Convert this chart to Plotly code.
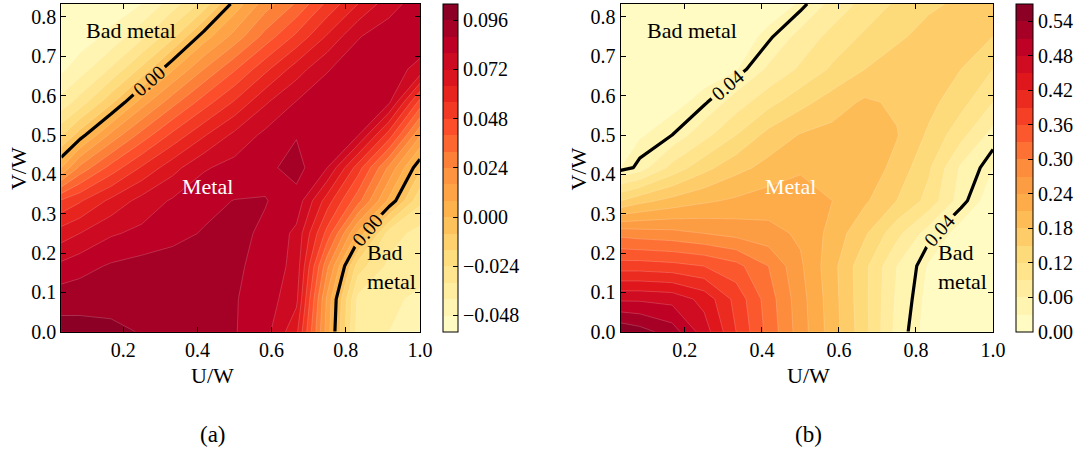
import plotly.graph_objects as go

# Grid of the parameter scan
U = [0.033, 0.083, 0.167, 0.25, 0.333, 0.417, 0.5, 0.583, 0.667, 0.75, 0.833, 0.917, 1.0]
V = [0.0, 0.083, 0.167, 0.25, 0.333, 0.417, 0.5, 0.583, 0.667, 0.75, 0.833]

# Panel (a): one row per V value, one column per U value
Z_A = [
    [0.099, 0.099, 0.098, 0.0955, 0.094, 0.092, 0.0885, 0.083, 0.066, 0.012, -0.036, -0.040, -0.042],
    [0.093, 0.093, 0.093, 0.093, 0.092, 0.091, 0.0885, 0.0845, 0.074, 0.014, -0.034, -0.039, -0.041],
    [0.082, 0.085, 0.089, 0.091, 0.091, 0.0905, 0.089, 0.086, 0.077, 0.026, -0.020, -0.034, -0.038],
    [0.068, 0.072, 0.079, 0.082, 0.086, 0.0885, 0.0895, 0.087, 0.078, 0.045, 0.006, -0.028, -0.035],
    [0.049, 0.055, 0.066, 0.075, 0.081, 0.086, 0.0882, 0.0883, 0.085, 0.060, 0.035, 0.006, -0.022],
    [0.008, 0.026, 0.043, 0.057, 0.069, 0.079, 0.083, 0.086, 0.091, 0.080, 0.052, 0.022, -0.006],
    [-0.017, -0.004, 0.018, 0.035, 0.050, 0.063, 0.074, 0.082, 0.0875, 0.083, 0.0805, 0.052, 0.017],
    [-0.037, -0.0285, -0.010, 0.012, 0.029, 0.044, 0.057, 0.071, 0.0805, 0.084, 0.083, 0.081, 0.045],
    [-0.0495, -0.044, -0.031, -0.014, 0.007, 0.024, 0.039, 0.054, 0.068, 0.0795, 0.084, 0.083, 0.078],
    [-0.053, -0.052, -0.046, -0.034, -0.018, 0.004, 0.019, 0.035, 0.050, 0.065, 0.0795, 0.084, 0.084],
    [-0.054, -0.054, -0.052, -0.048, -0.036, -0.021, 0.003, 0.020, 0.033, 0.050, 0.064, 0.077, 0.084],
]

# Panel (b)
Z_B = [
    [0.565, 0.553, 0.525, 0.465, 0.39, 0.32, 0.255, 0.195, 0.13, 0.05, 0.022, 0.014, 0.010],
    [0.475, 0.475, 0.47, 0.44, 0.38, 0.315, 0.252, 0.193, 0.128, 0.055, 0.024, 0.016, 0.012],
    [0.375, 0.375, 0.37, 0.36, 0.34, 0.30, 0.245, 0.19, 0.128, 0.06, 0.028, 0.018, 0.014],
    [0.29, 0.285, 0.28, 0.27, 0.26, 0.25, 0.235, 0.20, 0.155, 0.10, 0.045, 0.022, 0.016],
    [0.15, 0.17, 0.19, 0.205, 0.215, 0.225, 0.228, 0.21, 0.185, 0.15, 0.11, 0.045, 0.020],
    [0.030, 0.045, 0.10, 0.14, 0.17, 0.19, 0.205, 0.205, 0.20, 0.17, 0.125, 0.055, 0.030],
    [0.018, 0.028, 0.040, 0.08, 0.12, 0.16, 0.182, 0.19, 0.192, 0.182, 0.145, 0.10, 0.048],
    [0.012, 0.016, 0.024, 0.036, 0.075, 0.11, 0.14, 0.165, 0.185, 0.175, 0.16, 0.13, 0.09],
    [0.008, 0.010, 0.015, 0.022, 0.028, 0.065, 0.095, 0.125, 0.15, 0.165, 0.165, 0.15, 0.12],
    [0.005, 0.007, 0.010, 0.015, 0.020, 0.035, 0.07, 0.10, 0.125, 0.145, 0.16, 0.16, 0.15],
    [0.004, 0.005, 0.007, 0.010, 0.014, 0.020, 0.032, 0.07, 0.10, 0.125, 0.145, 0.155, 0.16],
]

# Filled-contour levels, highlighted iso-lines and colorbar ticks
LEVELS_A = (-0.056, 0.104, 0.008)
LEVELS_B = (0.0, 0.57, 0.03)
ISO_A = 0.0
ISO_B = 0.04
TICKS_A = [-0.048, -0.024, 0.0, 0.024, 0.048, 0.072, 0.096]
TICKTEXT_A = ["\u22120.048", "\u22120.024", "0.000", "0.024", "0.048", "0.072", "0.096"]
TICKS_B = [0.0, 0.06, 0.12, 0.18, 0.24, 0.30, 0.36, 0.42, 0.48, 0.54]
TICKTEXT_B = ["0.00", "0.06", "0.12", "0.18", "0.24", "0.30", "0.36", "0.42", "0.48", "0.54"]
XTICKS = [0.2, 0.4, 0.6, 0.8, 1.0]
XTICKTEXT = ["0.2", "0.4", "0.6", "0.8", "1.0"]
YTICKS = [0, 0.1, 0.2, 0.3, 0.4, 0.5, 0.6, 0.7, 0.8]
YTICKTEXT = ["0.0", "0.1", "0.2", "0.3", "0.4", "0.5", "0.6", "0.7", "0.8"]

FONT = "Liberation Serif"
W, H = 1091, 459

YLORRD = ["#ffffcc", "#ffeda0", "#fed976", "#feb24c", "#fd8d3c",
          "#fc4e2a", "#e31a1c", "#bd0026", "#800026"]


def hex_rgb(h):
    return tuple(int(h[i:i + 2], 16) for i in (1, 3, 5))


def cmap(t):
    t = min(max(t, 0.0), 1.0)
    pos = t * (len(YLORRD) - 1)
    i = min(int(pos), len(YLORRD) - 2)
    f = pos - i
    a, b = hex_rgb(YLORRD[i]), hex_rgb(YLORRD[i + 1])
    c = [round(a[k] + (b[k] - a[k]) * f) for k in range(3)]
    return "rgb(%d,%d,%d)" % tuple(c)


def band_colors(levels):
    start, end, step = levels
    n = int(round((end - start) / step))
    return [cmap((k + 0.5) / n) for k in range(n)]


def contour_scale(colors):
    # plotly samples band k at position (k+1)/(n+1); give every sample its own flat step
    n = len(colors)
    seq = [colors[0]] + colors + [colors[-1]]
    m = n + 1
    scale = []
    for j, c in enumerate(seq):
        scale.append([max(0.0, (j - 0.5) / m), c])
        scale.append([min(1.0, (j + 0.5) / m), c])
    return scale


def bar_scale(colors):
    n = len(colors)
    scale = []
    for k, c in enumerate(colors):
        scale.append([k / n, c])
        scale.append([(k + 1) / n, c])
    return scale


def px_x(p):
    return p / W


def px_y(p):
    return 1 - p / H


panels = [
    dict(z=Z_A, levels=LEVELS_A, iso=ISO_A, ticks=TICKS_A, ticktext=TICKTEXT_A,
         cbx=448, cbw=15, xa="x", ya="y"),
    dict(z=Z_B, levels=LEVELS_B, iso=ISO_B, ticks=TICKS_B, ticktext=TICKTEXT_B,
         cbx=1028, cbw=17, xa="x2", ya="y2"),
]

fig = go.Figure()
top_px, bot_px = 4, 340

for p in panels:
    start, end, step = p["levels"]
    cols = band_colors(p["levels"])
    fig.add_trace(go.Contour(
        x=U, y=V, z=p["z"], xaxis=p["xa"], yaxis=p["ya"],
        contours=dict(start=start, end=end, size=step, coloring="fill", showlines=True),
        line=dict(color="rgba(255,255,255,0.3)", width=0.6, smoothing=0),
        colorscale=contour_scale(cols), showscale=False, hoverinfo="skip",
    ))
    fig.add_trace(go.Contour(
        x=U, y=V, z=p["z"], xaxis=p["xa"], yaxis=p["ya"],
        contours=dict(start=p["iso"], end=p["iso"], size=step, coloring="none",
                      showlabels=True, labelformat=".2f",
                      labelfont=dict(family=FONT, size=20, color="black")),
        line=dict(color="black", width=3.2, smoothing=0),
        showscale=False, hoverinfo="skip",
    ))
    fig.add_trace(go.Scatter(
        x=[None], y=[None], mode="markers", xaxis=p["xa"], yaxis=p["ya"],
        showlegend=False, hoverinfo="skip",
        marker=dict(color=[start], cmin=start, cmax=end, colorscale=bar_scale(cols),
                    showscale=True,
                    colorbar=dict(
                        x=px_x(p["cbx"]), xanchor="left", xpad=0, ypad=0,
                        y=px_y(bot_px), yanchor="bottom",
                        len=(bot_px - top_px) / H, lenmode="fraction",
                        thickness=p["cbw"], outlinewidth=1, outlinecolor="black",
                        tickvals=p["ticks"], ticktext=p["ticktext"],
                        ticks="inside", ticklen=5, tickcolor="black",
                        tickfont=dict(family=FONT, size=20, color="black"),
                    )),
    ))

axis_common = dict(showgrid=False, zeroline=False, showline=True, linecolor="black",
                   linewidth=1, mirror="ticks", ticks="inside", ticklen=5,
                   tickcolor="black", tickfont=dict(family=FONT, size=20, color="black"))

ydom = [px_y(bot_px), px_y(top_px)]
fig.update_layout(
    width=W, height=H, margin=dict(l=0, r=0, t=0, b=0),
    paper_bgcolor="white", plot_bgcolor="white", showlegend=False,
    xaxis=dict(domain=[px_x(62), px_x(425)], range=[U[0], U[-1]], anchor="y",
               tickvals=XTICKS, ticktext=XTICKTEXT, **axis_common),
    yaxis=dict(domain=ydom, range=[V[0], V[-1]], anchor="x",
               tickvals=YTICKS, ticktext=YTICKTEXT, **axis_common),
    xaxis2=dict(domain=[px_x(628), px_x(1005)], range=[U[0], U[-1]], anchor="y2",
                tickvals=XTICKS, ticktext=XTICKTEXT, **axis_common),
    yaxis2=dict(domain=ydom, range=[V[0], V[-1]], anchor="x2",
                tickvals=YTICKS, ticktext=YTICKTEXT, **axis_common),
)

txt = dict(family=FONT, size=22, color="black")
wtxt = dict(family=FONT, size=22, color="white")


def note(x, y, text, xref, yref, font=txt, **kw):
    d = dict(x=x, y=y, xref=xref, yref=yref, text=text, showarrow=False, font=font,
             xanchor="center", yanchor="middle")
    d.update(kw)
    return d


annotations = [
    # region labels, panel (a)
    note(0.222, 0.765, "Bad metal", "x", "y"),
    note(0.428, 0.368, "Metal", "x", "y", font=wtxt),
    note(0.852, 0.164, "Bad<br>metal", "x", "y", xanchor="left", align="left"),
    # region labels, panel (b)
    note(0.218, 0.765, "Bad metal", "x2", "y2"),
    note(0.474, 0.368, "Metal", "x2", "y2", font=wtxt),
    note(0.851, 0.164, "Bad<br>metal", "x2", "y2", xanchor="left", align="left"),
    # axis titles
    note(px_x(19.5), px_y(173), "V/W", "paper", "paper", textangle=-90),
    note(px_x(585.5), px_y(173), "V/W", "paper", "paper", textangle=-90),
    note(px_x(215), px_y(385), "U/W", "paper", "paper"),
    note(px_x(818), px_y(385), "U/W", "paper", "paper"),
    # panel captions
    note(px_x(216), px_y(445), "(a)", "paper", "paper",
         font=dict(family=FONT, size=23, color="black")),
    note(px_x(818), px_y(445), "(b)", "paper", "paper",
         font=dict(family=FONT, size=23, color="black")),
]
fig.update_layout(annotations=annotations)

fig.write_html("out.html")
